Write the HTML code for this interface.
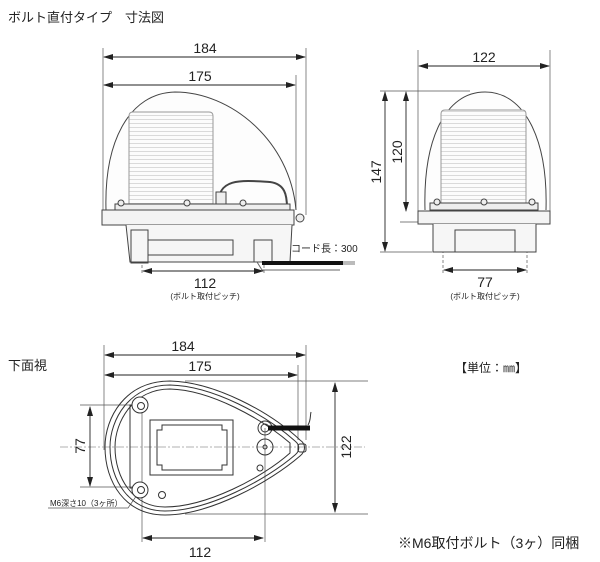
<!DOCTYPE html>
<html><head><meta charset="utf-8"><style>
body{margin:0;background:#fff;width:600px;height:562px;overflow:hidden}
svg{display:block}
text{font-family:"Liberation Sans","Noto Sans CJK JP",sans-serif;fill:#222}
</style></head><body>
<svg width="600" height="562" viewBox="0 0 600 562" xmlns="http://www.w3.org/2000/svg">
<defs>
<marker id="a" markerWidth="10" markerHeight="6" refX="9" refY="3" orient="auto-start-reverse" markerUnits="userSpaceOnUse"><path d="M0,0 L10,3 L0,6 Z" fill="#222"/></marker>
<pattern id="rib" width="4" height="4" patternUnits="userSpaceOnUse"><rect width="4" height="4" fill="#fcfcfc"/><line x1="0" y1="3.5" x2="4" y2="3.5" stroke="#ccc" stroke-width="0.7"/></pattern>
</defs>
<text x="8" y="22" font-size="13">ボルト直付タイプ　寸法図</text>
<g stroke="#555" stroke-width="0.7" fill="none">
<line x1="103" y1="48" x2="103" y2="212"/><line x1="306" y1="48" x2="306" y2="215"/><line x1="296" y1="75" x2="296" y2="210"/>
<line x1="142" y1="240" x2="142" y2="275" stroke-dasharray="3,2"/><line x1="264" y1="240" x2="264" y2="275" stroke-dasharray="3,2"/>
</g>
<g stroke="#222" stroke-width="0.9" fill="none">
<line x1="104" y1="57" x2="305" y2="57" marker-start="url(#a)" marker-end="url(#a)"/>
<line x1="104" y1="85" x2="295" y2="85" marker-start="url(#a)" marker-end="url(#a)"/>
<line x1="143" y1="271" x2="263" y2="271" marker-start="url(#a)" marker-end="url(#a)"/>
</g>
<text x="205" y="53" font-size="14" text-anchor="middle">184</text>
<text x="200" y="81" font-size="14" text-anchor="middle">175</text>
<text x="205" y="288" font-size="14" text-anchor="middle">112</text>
<text x="205" y="299" font-size="8" text-anchor="middle">(ボルト取付ピッチ)</text>
<g stroke="#444" stroke-width="1" fill="none">
<path d="M106 210 C104 140,130 93,175 92 C230 92,290 140,296 210" fill="#fdfdfd"/>
<path d="M129 208 L129 116 Q129 112,133 112 L209 112 Q213 112,213 116 L213 208 Z" fill="url(#rib)" stroke="#999"/>
<path d="M218 205 C218 178,240 180,270 182 C285 184,287 195,287 208" stroke-width="2"/>
<rect x="216" y="192" width="10" height="15" fill="#eee"/>
<rect x="115" y="204" width="175" height="6" fill="#eee"/>
<circle cx="121" cy="203" r="3" fill="#eee"/><circle cx="187" cy="203" r="3" fill="#eee"/><circle cx="243" cy="203" r="3" fill="#eee"/>
<rect x="102" y="210" width="192" height="15" fill="#f4f4f4"/>
<circle cx="300" cy="218" r="4" fill="#eee"/>
<path d="M126 225 L130 262 L290 262 L292 225" fill="#f6f6f6"/>
<rect x="131" y="230" width="17" height="33"/><rect x="148" y="240" width="85" height="15"/>
<rect x="254" y="240" width="18" height="22"/>
<path d="M257 262 L262 270 L340 270" stroke="#666"/>
</g>
<line x1="262" y1="263" x2="343" y2="263" stroke="#111" stroke-width="4"/>
<line x1="343" y1="262" x2="355" y2="262" stroke="#555" stroke-width="0.8"/>
<line x1="343" y1="264" x2="355" y2="264" stroke="#555" stroke-width="0.8"/>
<text x="291" y="252" font-size="10">コード長：300</text>

<g stroke="#555" stroke-width="0.7" fill="none">
<line x1="418" y1="50" x2="418" y2="212"/><line x1="550" y1="50" x2="550" y2="212"/>
<line x1="380" y1="91" x2="470" y2="91"/><line x1="400" y1="222" x2="420" y2="222"/><line x1="380" y1="252" x2="432" y2="252"/>
<line x1="443" y1="245" x2="443" y2="275" stroke-dasharray="3,2"/><line x1="527" y1="245" x2="527" y2="275" stroke-dasharray="3,2"/>
</g>
<g stroke="#222" stroke-width="0.9" fill="none">
<line x1="419" y1="66" x2="549" y2="66" marker-start="url(#a)" marker-end="url(#a)"/>
<line x1="385" y1="92" x2="385" y2="251" marker-start="url(#a)" marker-end="url(#a)"/>
<line x1="406" y1="92" x2="406" y2="211" marker-start="url(#a)" marker-end="url(#a)"/>
<line x1="444" y1="270" x2="526" y2="270" marker-start="url(#a)" marker-end="url(#a)"/>
</g>
<text x="484" y="62" font-size="14" text-anchor="middle">122</text>
<text x="485" y="287" font-size="14" text-anchor="middle">77</text>
<text x="485" y="299" font-size="8" text-anchor="middle">(ボルト取付ピッチ)</text>
<text transform="translate(381,172) rotate(-90)" font-size="14" text-anchor="middle">147</text>
<text transform="translate(402,152) rotate(-90)" font-size="14" text-anchor="middle">120</text>
<g stroke="#444" stroke-width="1" fill="none">
<path d="M425 210 C423 140,445 92,485 92 C525 92,548 140,546 210" fill="#fdfdfd"/>
<path d="M441 205 L441 114 Q441 110,445 110 L522 110 Q526 110,526 114 L526 205 Z" fill="url(#rib)" stroke="#999"/>
<rect x="430" y="203" width="108" height="7" fill="#eee"/>
<circle cx="437" cy="202" r="3" fill="#eee"/><circle cx="484" cy="202" r="3" fill="#eee"/><circle cx="532" cy="202" r="3" fill="#eee"/>
<rect x="418" y="211" width="132" height="13" fill="#f4f4f4"/>
<path d="M433 224 L433 252 L536 252 L536 224" fill="#f6f6f6"/>
<rect x="455" y="230" width="60" height="22"/>
</g>

<text x="8" y="370" font-size="13">下面視</text>
<text x="455" y="372" font-size="12">【単位：㎜】</text>
<g stroke="#555" stroke-width="0.7" fill="none">
<line x1="104" y1="345" x2="104" y2="450"/><line x1="306" y1="345" x2="306" y2="440"/><line x1="298" y1="365" x2="298" y2="440"/>
<line x1="185" y1="381" x2="368" y2="381"/><line x1="185" y1="514" x2="368" y2="514"/>
<line x1="80" y1="405" x2="140" y2="405"/><line x1="80" y1="487" x2="140" y2="487"/>
<line x1="142" y1="405" x2="142" y2="542"/><line x1="265" y1="428" x2="265" y2="542"/>
<line x1="60" y1="447" x2="365" y2="447" stroke-dasharray="8,2,2,2" stroke="#999"/>
<path d="M48 508 L128 508 L137 495"/>
</g>
<g stroke="#222" stroke-width="0.9" fill="none">
<line x1="105" y1="355" x2="305" y2="355" marker-start="url(#a)" marker-end="url(#a)"/>
<line x1="105" y1="375" x2="297" y2="375" marker-start="url(#a)" marker-end="url(#a)"/>
<line x1="335" y1="383" x2="335" y2="512" marker-start="url(#a)" marker-end="url(#a)"/>
<line x1="90" y1="407" x2="90" y2="486" marker-start="url(#a)" marker-end="url(#a)"/>
<line x1="143" y1="538" x2="263" y2="538" marker-start="url(#a)" marker-end="url(#a)"/>
</g>
<text x="183" y="351" font-size="14" text-anchor="middle">184</text>
<text x="200" y="371" font-size="14" text-anchor="middle">175</text>
<text x="200" y="557" font-size="14" text-anchor="middle">112</text>
<text transform="translate(85,446) rotate(-90)" font-size="14" text-anchor="middle">77</text>
<text transform="translate(351,447) rotate(-90)" font-size="14" text-anchor="middle">122</text>
<text x="50" y="506" font-size="8">M6深さ10（3ヶ所）</text>
<g stroke="#333" stroke-width="1" fill="none">
<path d="M300 440 C270 412,215 382,170 381 C125 381,105 418,105 447 C105 482,125 515,165 515 C210 515,270 482,300 456 C306 451,306 444,300 440 Z"/>
<path d="M295 441 C266 415,213 386,170 385 C129 385,110 420,110 447 C110 480,129 511,165 511 C208 511,266 480,295 455 C300 451,300 445,295 441 Z"/>
<path d="M290 443 C262 419,211 390,170 389 C133 389,115 422,115 447 C115 478,133 507,165 507 C206 507,262 478,290 453 Z"/>
<path d="M148 405 L130 405 L130 488 L148 488"/>
<rect x="150" y="420" width="83" height="55"/>
<path d="M162 425 L222 425 L222 430 L227 430 L227 465 L222 465 L222 470 L162 470 L162 465 L157 465 L157 430 L162 430 Z"/>
<circle cx="140" cy="405" r="8" fill="#fff"/><circle cx="141" cy="406" r="3.5"/>
<circle cx="140" cy="490" r="8" fill="#fff"/><circle cx="141" cy="490" r="3.5"/>
<circle cx="265" cy="428" r="7"/><circle cx="265" cy="428" r="4"/>
<circle cx="265" cy="447" r="8"/><circle cx="265" cy="447" r="2"/>
<circle cx="260" cy="468" r="3"/><circle cx="162" cy="495" r="3.5"/>
<rect x="298" y="444" width="8" height="8" rx="2"/>
</g>
<line x1="268" y1="428" x2="310" y2="428" stroke="#111" stroke-width="5"/>
<path d="M308 425 C311 420,310 416,311 412" stroke="#333" fill="none"/>
<text x="398" y="548" font-size="14">※M6取付ボルト（3ヶ）同梱</text>
</svg>
</body></html>
